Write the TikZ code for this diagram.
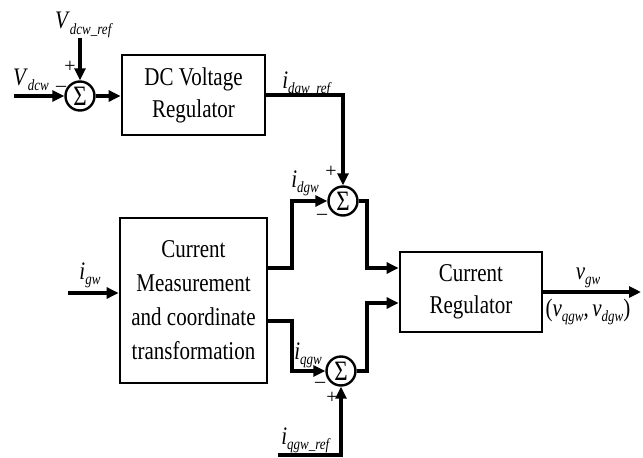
\documentclass[tikz,border=0pt]{standalone}
\usepackage{fontspec}
\setmainfont{Liberation Serif}
\usetikzlibrary{arrows.meta,calc}
\newcommand\tl[1]{\scalebox{1}[1.22]{#1}}
\newcommand\sig[2]{\scalebox{1}[1.2]{\fontsize{21}{21}\selectfont\textit{#1}\raisebox{-0.45ex}{\fontsize{13}{13}\selectfont\textit{#2}}}}
\begin{document}
\begin{tikzpicture}[x=1pt,y=-1pt,
  blk/.style={draw, line width=2.8pt, inner sep=0pt, align=center, font=\fontsize{21}{34}\selectfont},
  sumc/.style={draw, circle, line width=2.4pt, minimum size=29pt, inner sep=0pt, font=\fontsize{23}{23}\selectfont},
  wire/.style={line width=3.3pt},
  arr/.style={wire, -{Triangle[length=12pt,width=11pt]}},
  lbl/.style={inner sep=0pt},
  sgn/.style={inner sep=0pt, font=\fontsize{20}{20}\selectfont}]
\useasboundingbox (0,0) rectangle (643,458);
% blocks
\node[blk, minimum width=143pt, minimum height=80pt] (dc) at (193.5,95) {\tl{DC Voltage}\\[-2pt]\tl{Regulator}};
\node[blk, minimum width=147pt, minimum height=165pt] (cm) at (193.5,300.5) {\tl{Current}\\\tl{Measurement}\\\tl{and coordinate}\\\tl{transformation}};
\node[blk, minimum width=142pt, minimum height=80pt] (cr) at (471,292) {\tl{Current}\\[-2pt]\tl{Regulator}};
% summers
\node[sumc] (s1) at (80,96) {\tl{Σ}};
\node[sumc] (s2) at (343,201) {\tl{Σ}};
\node[sumc] (s3) at (341,371) {\tl{Σ}};
% free ends
\coordinate (vin) at (14,96);
\coordinate (vref) at (80,38);
\coordinate (igin) at (68,293);
\coordinate (qref) at (278,455);
\coordinate (vout) at (641,292);
% wires
\draw[arr] (vin) -- (s1.west);
\draw[arr] (vref) -- (s1.north);
\draw[arr] (s1.east) -- (s1.east -| dc.west);
\draw[arr] (dc.east) -- (dc.east -| s2.north) -- (s2.north);
\draw[arr] (cm.east |- 0,268) -- (292,268) -- (292,201) -- (s2.west);
\draw[arr] (s2.east) -- (367,201) -- (367,268) -- (cr.west |- 0,268);
\draw[arr] (cm.east |- 0,321) -- (292,321) -- (292,371) -- (s3.west);
\draw[arr] (s3.east) -- (367,371) -- (367,303) -- (cr.west |- 0,303);
\draw[arr] (qref) -- (qref -| s3.south) -- (s3.south);
\draw[arr] (igin) -- (cm.west |- igin);
\draw[arr] (cr.east) -- (vout);
% labels
\node[lbl] (lvdc) at (31,80) {\sig{V}{dcw}};
\node[lbl] (lvref) at (84,25) {\sig{V}{dcw\_ref}};
\node[sgn] (m1) at (61,89) {\textendash};
\node[sgn] (p1) at (70,67) {+};
\node[lbl] (lidref) at (307,84) {\sig{i}{dgw\_ref}};
\node[lbl] (lid) at (305,183) {\sig{i}{dgw}};
\node[sgn] (p2) at (331,172) {+};
\node[sgn] (m2) at (322,217) {\textendash};
\node[lbl] (lig) at (90,275) {\sig{i}{gw}};
\node[lbl] (liq) at (308,355) {\sig{i}{qgw}};
\node[sgn] (m3) at (320,385) {\textendash};
\node[sgn] (p3) at (332,398) {+};
\node[lbl] (liqref) at (306,440) {\sig{i}{qgw\_ref}};
\node[lbl] (lvg) at (588,278) {\sig{v}{gw}};
\node[lbl] (lvqd) at (588,312) {\scalebox{1}[1.2]{\fontsize{21}{21}\selectfont(}\sig{v}{qgw}\scalebox{1}[1.2]{\fontsize{21}{21}\selectfont,\,}\sig{v}{dgw}\scalebox{1}[1.2]{\fontsize{21}{21}\selectfont)}};
\end{tikzpicture}
\end{document}
